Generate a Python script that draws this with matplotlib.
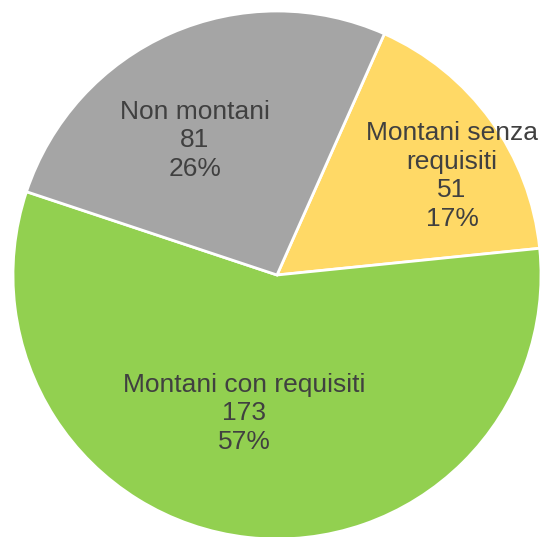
import matplotlib
matplotlib.use("Agg")
from matplotlib import pyplot as plt

# slices in drawing order (clockwise from the top-right)
names = ["Montani senza\nrequisiti", "Montani con requisiti", "Non montani"]
counts = [51, 173, 81]
percents = ["17%", "57%", "26%"]
colors = ["#FFD966", "#92D050", "#A5A5A5"]

# label centres, in pie-radius units
label_pos = [(0.663, 0.375), (-0.125, -0.523), (-0.311, 0.511)]

plt.rcParams["font.family"] = ["Liberation Sans", "DejaVu Sans"]

fig = plt.figure(figsize=(5.42, 5.37), dpi=100)
cx, cy, r = 277, 275, 264
ax = fig.add_axes([(cx - r)/542, (537 - cy - r)/537, 2*r/542, 2*r/537])
ax.pie(counts, colors=colors, startangle=66, counterclock=False,
       wedgeprops=dict(edgecolor="white", linewidth=2))
ax.set_xlim(-1, 1)
ax.set_ylim(-1, 1)
ax.axis("off")

for name, n, p, (x, y) in zip(names, counts, percents, label_pos):
    ax.text(x, y, "%s\n%d\n%s" % (name, n, p), ha="center", va="center",
            fontsize=19, color="#404040", linespacing=1.24)

fig.savefig("out.png", dpi=100)
